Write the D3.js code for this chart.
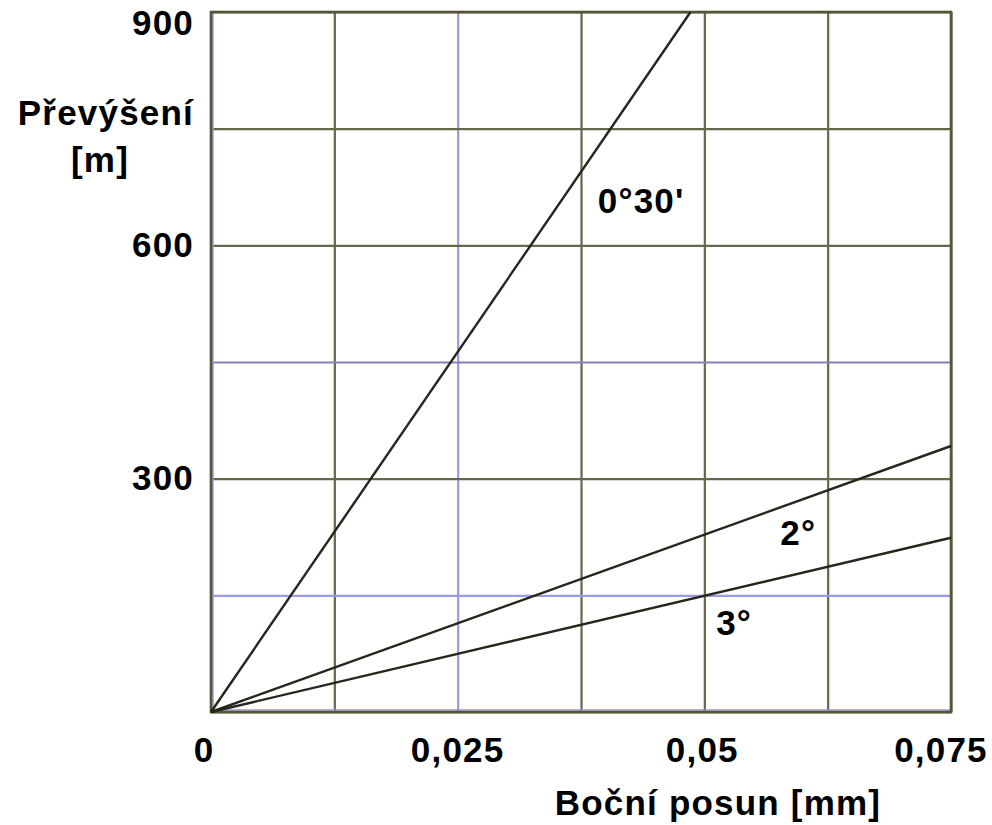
<!DOCTYPE html>
<html>
<head>
<meta charset="utf-8">
<script src="https://cdn.jsdelivr.net/npm/d3@7"></script>
<style>
  html, body { margin: 0; padding: 0; background: #fff; }
  svg text { font-family: "Liberation Sans", Arial, sans-serif; font-weight: bold; fill: #000; letter-spacing: 1.2px; }
</style>
</head>
<body>
<svg id="chart" width="992" height="825"></svg>
<script>
// series: lateral shift [mm] vs. elevation [m], straight lines from origin
const seriesNames = ["0°30'", "2°", "3°"];
const seriesEndX = [0.0486, 0.075, 0.075];
const seriesEndY = [900, 342, 224];
// label anchor points (data coords)
const labelX = [0.0392, 0.0577, 0.0512];
const labelY = [641, 215, 99];

// grid + tick labels
const gridX = [0, 0.0125, 0.025, 0.0375, 0.05, 0.0625, 0.075];
const gridY = [0, 150, 300, 450, 600, 750, 900];
const blueX = [0.025];
const blueY = [150, 450];
const xTicks = [0, 0.025, 0.05, 0.075];
const xTickLabels = ["0", "0,025", "0,05", "0,075"];
const yTicks = [300, 600, 900];
const yTickLabels = ["300", "600", "900"];

const svg = d3.select("#chart");
const margin = { top: 12, right: 41, bottom: 113, left: 211 };
const W = 992, H = 825;

const x = d3.scaleLinear().domain([0, 0.075]).range([margin.left, W - margin.right]);
const y = d3.scaleLinear().domain([0, 900]).range([H - margin.bottom, margin.top]);

const olive = "#66664a";
const blue = "#9a9ae6";

// -----------------------------
// Grid
// -----------------------------
const gx = svg.append("g")
    .attr("transform", `translate(0,${y(0)})`)
    .call(d3.axisBottom(x).tickValues(gridX).tickSize(-(y(0) - y(900))).tickFormat(""));
gx.select(".domain").remove();
gx.selectAll(".tick line")
    .attr("stroke", d => blueX.includes(d) ? blue : olive)
    .attr("stroke-width", 2.2);

const gy = svg.append("g")
    .attr("transform", `translate(${x(0)},0)`)
    .call(d3.axisLeft(y).tickValues(gridY).tickSize(-(x(0.075) - x(0))).tickFormat(""));
gy.select(".domain").remove();
gy.selectAll(".tick line")
    .attr("stroke", d => d === 150 ? blue : d === 450 ? "#8282b4" : olive)
    .attr("stroke-width", 2.2);

// blueish inner edge on the left and bottom frame, like the scan
svg.append("line")
    .attr("x1", x(0) + 2).attr("x2", x(0) + 2)
    .attr("y1", y(900)).attr("y2", y(0))
    .attr("stroke", blue).attr("stroke-width", 1.5);
svg.append("line")
    .attr("x1", x(0)).attr("x2", x(0.075))
    .attr("y1", y(0) - 2).attr("y2", y(0) - 2)
    .attr("stroke", blue).attr("stroke-width", 1.5);

// frame
svg.append("rect")
    .attr("x", x(0)).attr("y", y(900))
    .attr("width", x(0.075) - x(0)).attr("height", y(0) - y(900))
    .attr("fill", "none")
    .attr("stroke", "#555538")
    .attr("stroke-width", 2.6);

// -----------------------------
// Series lines
// -----------------------------
const line = d3.line().x(d => x(d[0])).y(d => y(d[1]));
seriesNames.forEach((name, i) => {
    svg.append("path")
        .datum([[0, 0], [seriesEndX[i], seriesEndY[i]]])
        .attr("d", line)
        .attr("fill", "none")
        .attr("stroke", "#26261a")
        .attr("stroke-width", 2.4);

    svg.append("text")
        .attr("x", x(labelX[i]))
        .attr("y", y(labelY[i]))
        .attr("font-size", 35)
        .text(name);
});

// -----------------------------
// Tick labels
// -----------------------------
const xOffsets = [-7, 0, -2, -10];
svg.append("g").selectAll("text")
    .data(xTicks)
    .join("text")
    .attr("x", (d, i) => x(d) + xOffsets[i])
    .attr("y", 762)
    .attr("text-anchor", "middle")
    .attr("font-size", 35)
    .text((d, i) => xTickLabels[i]);

// top label sits below its gridline, the others are centred on theirs
const yOffsets = [11, 12, 23];
svg.append("g").selectAll("text")
    .data(yTicks)
    .join("text")
    .attr("x", x(0) - 17)
    .attr("y", (d, i) => y(d) + yOffsets[i])
    .attr("text-anchor", "end")
    .attr("font-size", 35)
    .text((d, i) => yTickLabels[i]);

// axis titles
svg.append("text")
    .attr("x", x(0) - 17)
    .attr("y", 125)
    .attr("text-anchor", "end")
    .attr("font-size", 35)
    .text("Převýšení");
svg.append("text")
    .attr("x", 100)
    .attr("y", 172)
    .attr("text-anchor", "middle")
    .attr("font-size", 35)
    .text("[m]");

svg.append("text")
    .attr("x", 718)
    .attr("y", 815)
    .attr("text-anchor", "middle")
    .attr("font-size", 35)
    .text("Boční posun [mm]");
</script>
</body>
</html>
